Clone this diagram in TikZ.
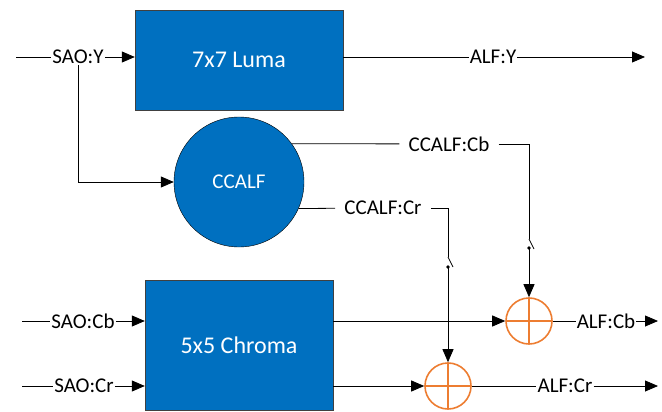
\documentclass[tikz,border=0pt]{standalone}
\usepackage{fontspec}
\setmainfont{Carlito}
\usetikzlibrary{positioning,arrows.meta}
\definecolor{blockblue}{HTML}{0070C0}
\definecolor{sumorange}{HTML}{ED7D31}

\begin{document}
\begin{tikzpicture}[x=1pt,y=-1pt,
	block/.style={rectangle,draw=black!75,fill=blockblue,text=white,font=\fontsize{24}{28}\selectfont},
	cfnode/.style={circle,draw=black,fill=blockblue,text=white,minimum size=130pt,font=\fontsize{21}{24}\selectfont},
	adder/.style={circle,draw=sumorange,line width=1.6pt,minimum size=46pt,inner sep=0pt,
		path picture={\draw[sumorange,line width=1.6pt] (path picture bounding box.north) -- (path picture bounding box.south)
			(path picture bounding box.west) -- (path picture bounding box.east);}},
	sig/.style={inner xsep=1pt,inner ysep=1pt,font=\fontsize{21}{24}\selectfont},
	ccsig/.style={sig,inner xsep=9pt},
	wire/.style={line width=0.8pt},
	arr/.style={line width=0.8pt,-{Triangle[length=13pt,width=11pt]}}]
	\useasboundingbox (0,0) rectangle (662,412);
	\node[block,minimum width=208pt,minimum height=100pt] (luma) at (239,60) {7x7 Luma};
	\node[cfnode] (ccalf) at (239,182) {CCALF};
	\node[block,minimum width=188pt,minimum height=130pt] (chroma) at (239,345) {5x5 Chroma};
	\node[adder] (addcb) at (529,321) {};
	\node[adder] (addcr) at (448,386) {};
	% luma path
	\coordinate (iny) at (16,57);
	\node[sig] (saoy) at (78,57) {SAO:Y};
	\node[sig] (alfy) at (493,57) {ALF:Y};
	\coordinate (outy) at (645,57);
	\draw[wire] (iny) -- (saoy);
	\draw[arr] (saoy) -- (luma.west |- saoy);
	\draw[arr] (saoy.south) |- (ccalf);
	\draw[wire] (luma.east |- alfy) -- (alfy);
	\draw[arr] (alfy) -- (outy);
	% cross-component outputs
	\node[ccsig] (cccb) at (449,144) {CCALF:Cb};
	\coordinate (swcbt) at (529,239);
	\coordinate (swcbb) at (529,248);
	\draw[wire] (ccalf.36) -- (cccb);
	\draw[wire] (cccb) -| (swcbt);
	\draw[wire] (swcbt) -- ++(5,10);
	\fill (swcbb) circle (1.8);
	\draw[arr] (swcbb) -- (addcb);
	\node[ccsig] (cccr) at (383,208) {CCALF:Cr};
	\coordinate (swcrt) at (448,257);
	\coordinate (swcrb) at (448,267);
	\draw[wire] (ccalf.-24) -- (cccr);
	\draw[wire] (cccr) -| (swcrt);
	\draw[wire] (swcrt) -- ++(5,10);
	\fill (swcrb) circle (1.8);
	\draw[arr] (swcrb) -- (addcr);
	% chroma path
	\coordinate (incb) at (22,321);
	\node[sig] (saocb) at (83,321) {SAO:Cb};
	\coordinate (incr) at (22,386);
	\node[sig] (saocr) at (84,386) {SAO:Cr};
	\draw[wire] (incb) -- (saocb);
	\draw[arr] (saocb) -- (chroma.west |- saocb);
	\draw[wire] (incr) -- (saocr);
	\draw[arr] (saocr) -- (chroma.west |- saocr);
	\draw[arr] (chroma.east |- addcb) -- (addcb);
	\draw[arr] (chroma.east |- addcr) -- (addcr);
	\node[sig] (alfcb) at (606,321) {ALF:Cb};
	\coordinate (outcb) at (658,321);
	\node[sig] (alfcr) at (565,386) {ALF:Cr};
	\coordinate (outcr) at (658,386);
	\draw[wire] (addcb) -- (alfcb);
	\draw[arr] (alfcb) -- (outcb);
	\draw[wire] (addcr) -- (alfcr);
	\draw[arr] (alfcr) -- (outcr);
\end{tikzpicture}
\end{document}
